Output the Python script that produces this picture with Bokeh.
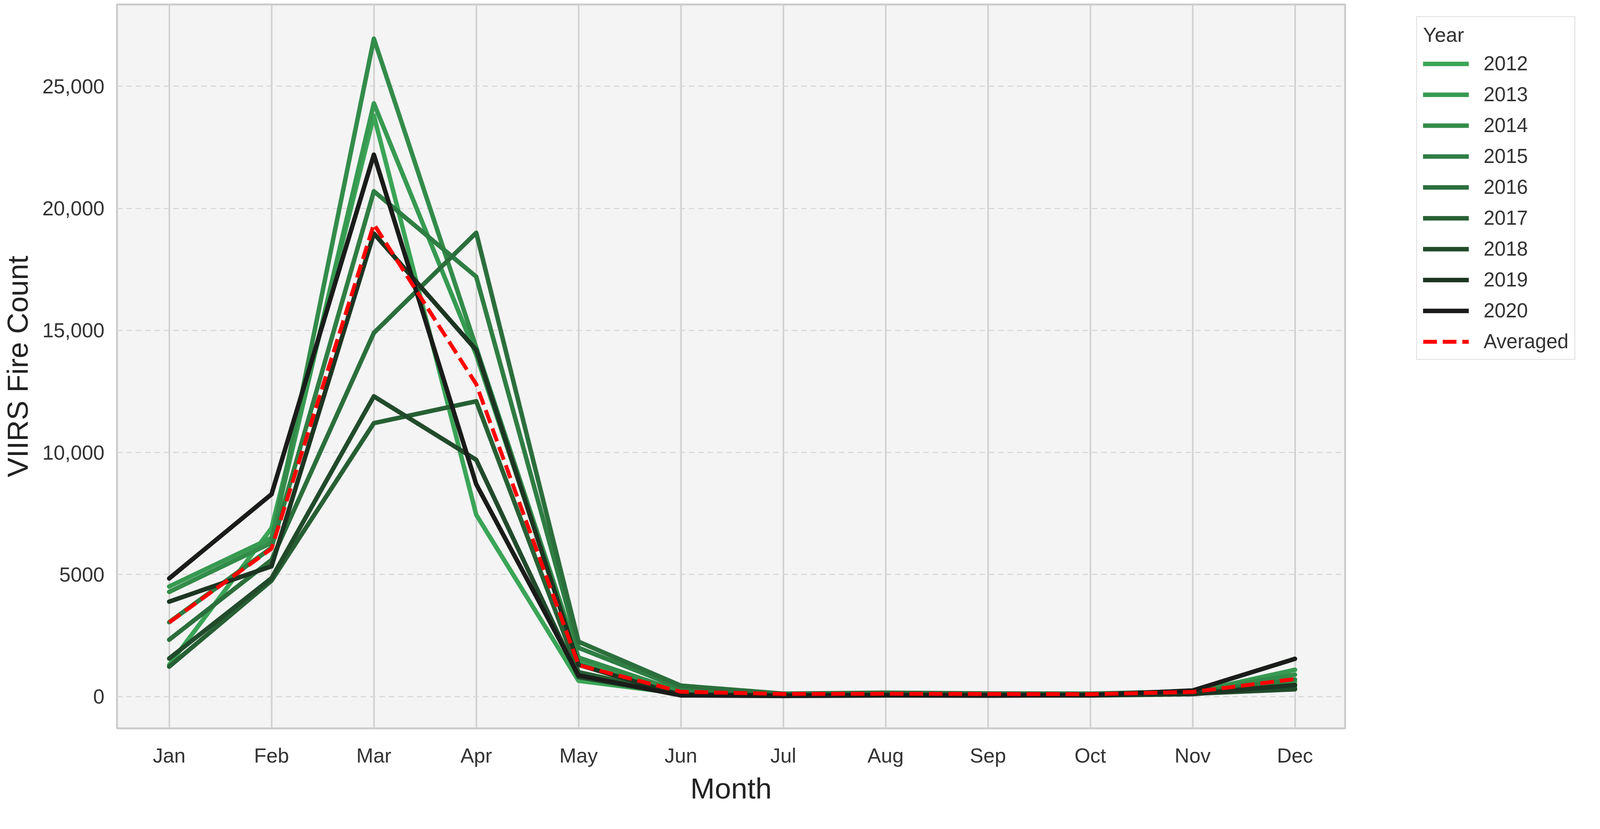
from bokeh.embed import file_html
from bokeh.models import FixedTicker, Legend, LegendItem, Range1d
from bokeh.plotting import figure
from bokeh.resources import INLINE

MONTHS = ["Jan", "Feb", "Mar", "Apr", "May", "Jun",
          "Jul", "Aug", "Sep", "Oct", "Nov", "Dec"]
YEARS = ["2012", "2013", "2014", "2015", "2016", "2017", "2018", "2019", "2020"]

# monthly VIIRS fire counts
fires_2012 = [1300, 6900, 23800, 7450, 650, 120, 60, 90, 80, 70, 150, 600]
fires_2013 = [4510, 6500, 24300, 14000, 1500, 150, 80, 120, 100, 90, 180, 1100]
fires_2014 = [4290, 6300, 26950, 14300, 1600, 200, 100, 150, 120, 110, 200, 900]
fires_2015 = [3050, 6100, 20700, 17200, 2000, 350, 90, 130, 110, 100, 170, 700]
fires_2016 = [2330, 5600, 14900, 19000, 2250, 450, 120, 160, 130, 120, 220, 450]
fires_2017 = [1230, 4750, 11200, 12100, 1000, 100, 70, 100, 90, 80, 150, 350]
fires_2018 = [1560, 4850, 12300, 9700, 800, 80, 50, 80, 70, 60, 120, 300]
fires_2019 = [3890, 5340, 18970, 14200, 1300, 60, 40, 60, 50, 50, 100, 480]
fires_2020 = [4840, 8290, 22200, 8700, 870, 50, 30, 50, 40, 60, 250, 1550]
averaged = [3040, 6060, 19350, 12800, 1290, 200, 110, 120, 110, 100, 190, 720]

SERIES = [fires_2012, fires_2013, fires_2014, fires_2015, fires_2016,
          fires_2017, fires_2018, fires_2019, fires_2020]
COLORS = ["#3ba557", "#379a51", "#338c4a", "#2f7e43", "#2b6f3c",
          "#276034", "#214b2b", "#1c3522", "#1a1c1a"]

FONT = "Liberation Sans"
x = list(range(len(MONTHS)))

p = figure(
    frame_width=3144, frame_height=1852,
    x_range=Range1d(-0.51, 11.49), y_range=Range1d(-1300, 28350),
    min_border_left=298, min_border_right=630,
    min_border_top=11, min_border_bottom=193,
    toolbar_location=None, output_backend="svg",
    background_fill_color="#f4f4f4", border_fill_color="white",
    x_axis_label="Month", y_axis_label="VIIRS Fire Count",
)
p.outline_line_color = "#cccccc"
p.outline_line_width = 5

items = []
for year, values, color in zip(YEARS, SERIES, COLORS):
    r = p.line(x, values, line_width=11.5, color=color,
               line_join="round", line_cap="round")
    items.append(LegendItem(label=year, renderers=[r]))
avg = p.line(x, averaged, line_width=10, color="#ff0000", line_dash="35 15")
items.append(LegendItem(label="Averaged", renderers=[avg]))

p.xaxis.ticker = FixedTicker(ticks=x)
p.xaxis.major_label_overrides = {i: m for i, m in enumerate(MONTHS)}
p.yaxis.ticker = FixedTicker(ticks=[0, 5000, 10000, 15000, 20000, 25000])
p.yaxis.major_label_overrides = {0: "0", 5000: "5000", 10000: "10,000",
                                 15000: "15,000", 20000: "20,000", 25000: "25,000"}

for ax in (p.xaxis, p.yaxis):
    ax.axis_line_color = None
    ax.major_tick_line_color = None
    ax.minor_tick_line_color = None
    ax.major_tick_out = 0
    ax.major_tick_in = 0
    ax.major_label_text_font = FONT
    ax.major_label_text_font_size = "52px"
    ax.major_label_text_color = "#333333"
    ax.axis_label_text_font = FONT
    ax.axis_label_text_font_size = "75px"
    ax.axis_label_text_font_style = "normal"
    ax.axis_label_text_color = "#222222"
p.xaxis.major_label_standoff = 40
p.xaxis.axis_label_standoff = 10
p.yaxis.major_label_standoff = 32
p.yaxis.axis_label_standoff = 18

p.xgrid.grid_line_color = "#d0d0d0"
p.xgrid.grid_line_width = 4
p.ygrid.grid_line_color = "#d9d9d9"
p.ygrid.grid_line_width = 3
p.ygrid.grid_line_dash = "14 10"

legend = Legend(items=items, location=(182, 942))
legend.title = "Year"
legend.title_text_font = FONT
legend.title_text_font_size = "52px"
legend.title_text_font_style = "normal"
legend.title_text_color = "#333333"
legend.title_standoff = 14
legend.label_text_font = FONT
legend.label_text_font_size = "51px"
legend.label_text_color = "#333333"
legend.glyph_width = 117
legend.glyph_height = 58
legend.label_height = 58
legend.label_standoff = 38
legend.spacing = 20
legend.padding = 15
legend.margin = 0
legend.border_line_color = "#d0d0d0"
legend.border_line_width = 3
legend.background_fill_color = "white"
legend.background_fill_alpha = 1.0
p.add_layout(legend, "right")

open("out.html", "w").write(file_html(p, INLINE))
